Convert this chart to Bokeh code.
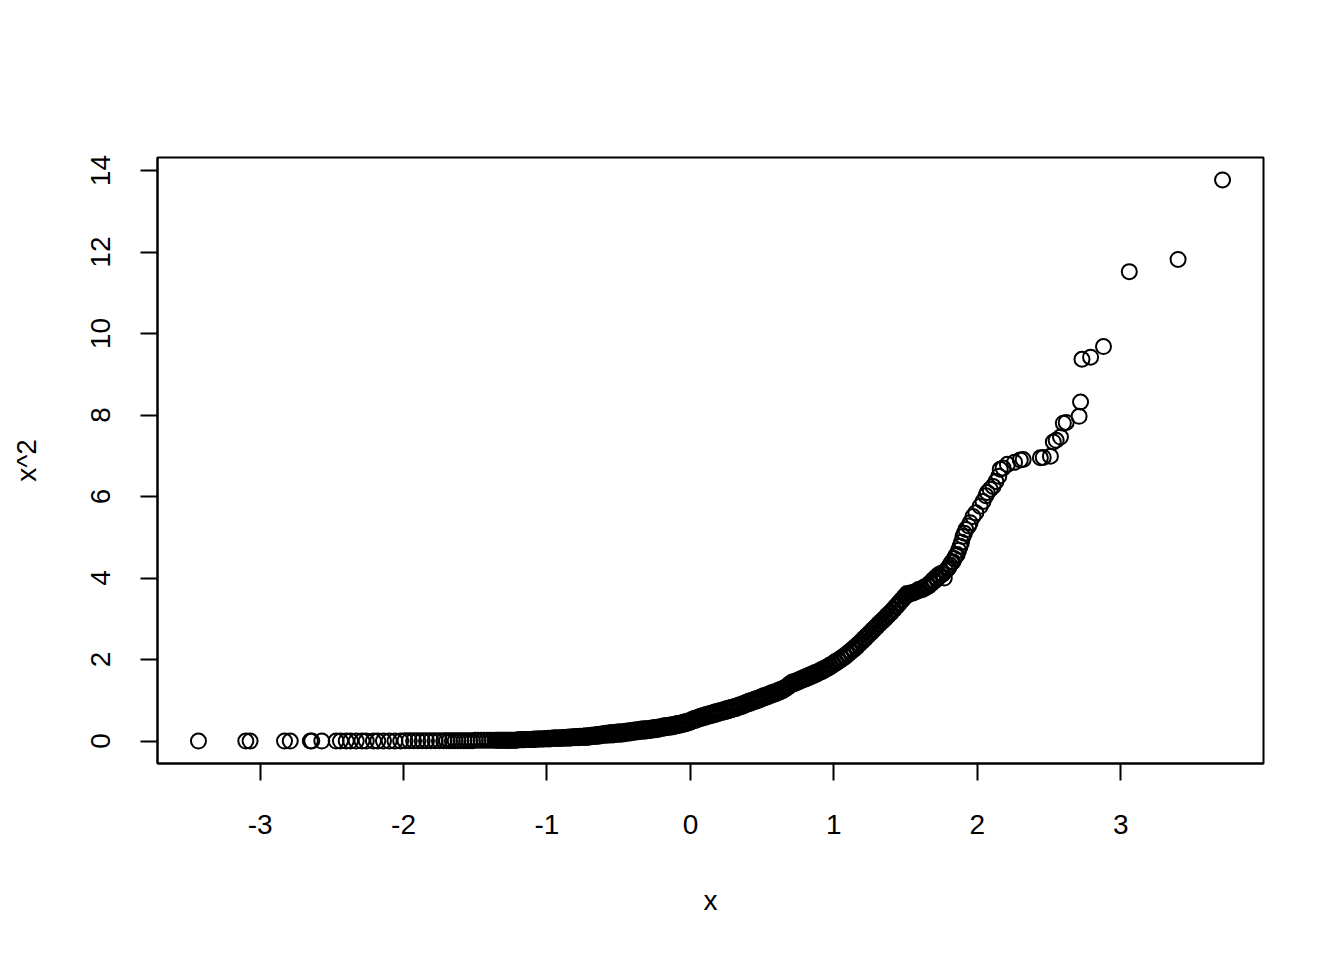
from bokeh.plotting import figure
from bokeh.models import Range1d, FixedTicker
from bokeh.embed import file_html
from bokeh.resources import INLINE

# ---- data ----
# sparse left tail
x_left = [
    -3.43, -3.10, -3.07, -2.83, -2.79, -2.65, -2.64, -2.57, -2.47, -2.44,
    -2.40, -2.37, -2.33, -2.29, -2.26, -2.21, -2.18, -2.14, -2.10, -2.06,
    -2.02, -1.99, -1.96, -1.93, -1.90, -1.87, -1.84, -1.81, -1.78, -1.75,
    -1.72, -1.70,
]
y_left = [
    0.00, 0.00, 0.00, 0.00, 0.00, 0.00, 0.00, 0.00, 0.00, 0.00,
    0.00, 0.00, 0.00, 0.00, 0.00, 0.00, 0.00, 0.00, 0.00, 0.00,
    0.00, 0.01, 0.01, 0.01, 0.01, 0.01, 0.01, 0.01, 0.01, 0.01,
    0.01, 0.01,
]
# dense middle band, lower edge
x_mid = [
    -1.68, -1.66, -1.64, -1.62, -1.60, -1.58, -1.56, -1.54, -1.52,
    -1.50, -1.48, -1.46, -1.44, -1.42, -1.40, -1.38, -1.36, -1.34, -1.32,
    -1.30, -1.28, -1.26, -1.24, -1.22,
    -1.20, -1.18, -1.16, -1.14, -1.12, -1.10, -1.08, -1.06, -1.04, -1.02,
    -1.00, -0.98, -0.96, -0.94, -0.92, -0.90, -0.88, -0.86, -0.84, -0.82,
    -0.80, -0.78, -0.76, -0.74, -0.72, -0.70, -0.68, -0.66, -0.64, -0.62,
    -0.60, -0.58, -0.56, -0.54, -0.52, -0.50, -0.48, -0.46, -0.44, -0.42,
    -0.40, -0.38, -0.36, -0.34, -0.32, -0.30, -0.28, -0.26, -0.24, -0.22,
    -0.20, -0.18, -0.16, -0.14, -0.12, -0.10, -0.08, -0.06, -0.04, -0.02,
    0.00, 0.02, 0.04, 0.06, 0.08, 0.10, 0.12, 0.14, 0.16, 0.18,
    0.20, 0.22, 0.24, 0.26, 0.28, 0.30, 0.32, 0.34, 0.36, 0.38,
    0.40, 0.42, 0.44, 0.46, 0.48, 0.50, 0.52, 0.54, 0.56, 0.58,
    0.60, 0.62, 0.64, 0.66, 0.68, 0.70, 0.72, 0.74, 0.76, 0.78,
    0.80, 0.82, 0.84, 0.86, 0.88, 0.90, 0.92, 0.94, 0.96, 0.98,
    1.00, 1.02, 1.04, 1.06, 1.08, 1.10, 1.12, 1.14, 1.16, 1.18,
    1.20, 1.22, 1.24, 1.26, 1.28, 1.30, 1.32, 1.34, 1.36, 1.38,
    1.40, 1.42, 1.44, 1.46, 1.48, 1.50,
]
y_mid = [
    0.01, 0.01, 0.01, 0.01, 0.01, 0.01, 0.01, 0.01, 0.01,
    0.02, 0.02, 0.02, 0.02, 0.02, 0.02, 0.02, 0.02, 0.02, 0.02,
    0.02, 0.02, 0.02, 0.02, 0.02,
    0.03, 0.03, 0.03, 0.04, 0.04, 0.04, 0.04, 0.05, 0.05, 0.05,
    0.05, 0.05, 0.06, 0.06, 0.06, 0.06, 0.07, 0.07, 0.07, 0.08,
    0.08, 0.08, 0.09, 0.09, 0.09, 0.10, 0.11, 0.11, 0.12, 0.13,
    0.14, 0.14, 0.15, 0.15, 0.16, 0.17, 0.17, 0.18, 0.19, 0.20,
    0.21, 0.22, 0.23, 0.24, 0.24, 0.25, 0.26, 0.27, 0.28, 0.29,
    0.31, 0.32, 0.33, 0.34, 0.35, 0.37, 0.38, 0.40, 0.42, 0.44,
    0.46, 0.49, 0.51, 0.54, 0.56, 0.58, 0.60, 0.62, 0.64, 0.66,
    0.68, 0.70, 0.72, 0.74, 0.76, 0.78, 0.80, 0.83, 0.85, 0.88,
    0.91, 0.93, 0.96, 0.98, 1.01, 1.04, 1.06, 1.09, 1.12, 1.14,
    1.17, 1.20, 1.23, 1.27, 1.32, 1.38, 1.40, 1.43, 1.46, 1.49,
    1.52, 1.55, 1.58, 1.61, 1.64, 1.68, 1.71, 1.75, 1.79, 1.83,
    1.88, 1.92, 1.97, 2.02, 2.07, 2.13, 2.19, 2.25, 2.31, 2.38,
    2.45, 2.52, 2.59, 2.66, 2.73, 2.80, 2.87, 2.94, 3.01, 3.08,
    3.15, 3.23, 3.31, 3.39, 3.47, 3.55,
]
# dense middle band, upper edge
x_mid2 = [
    -1.35, -1.33, -1.31, -1.29, -1.27, -1.25, -1.23, -1.21,
    -1.19, -1.17, -1.15, -1.13, -1.11, -1.09, -1.07, -1.05, -1.03, -1.01,
    -0.99, -0.97, -0.95, -0.93, -0.91, -0.89, -0.87, -0.85, -0.83, -0.81,
    -0.79, -0.77, -0.75, -0.73, -0.71, -0.69, -0.67, -0.65, -0.63, -0.61,
    -0.59, -0.57, -0.55, -0.53, -0.51, -0.49, -0.47, -0.45, -0.43, -0.41,
    -0.39, -0.37, -0.35, -0.33, -0.31, -0.29, -0.27, -0.25, -0.23, -0.21,
    -0.19, -0.17, -0.15, -0.13, -0.11, -0.09, -0.07, -0.05, -0.03, -0.01,
    0.01, 0.03, 0.05, 0.07, 0.09, 0.11, 0.13, 0.15, 0.17, 0.19,
    0.21, 0.23, 0.25, 0.27, 0.29, 0.31, 0.33, 0.35, 0.37, 0.39,
    0.41, 0.43, 0.45, 0.47, 0.49, 0.51, 0.53, 0.55, 0.57, 0.59,
    0.61, 0.63, 0.65, 0.67, 0.69, 0.71, 0.73, 0.75, 0.77, 0.79,
    0.81, 0.83, 0.85, 0.87, 0.89, 0.91, 0.93, 0.95, 0.97, 0.99,
    1.01, 1.03, 1.05, 1.07, 1.09, 1.11, 1.13, 1.15, 1.17, 1.19,
    1.21, 1.23, 1.25, 1.27, 1.29, 1.31, 1.33, 1.35, 1.37, 1.39,
    1.41, 1.43, 1.45, 1.47, 1.49, 1.51,
]
y_mid2 = [
    0.02, 0.02, 0.02, 0.02, 0.02, 0.02, 0.02, 0.02,
    0.03, 0.03, 0.04, 0.04, 0.04, 0.05, 0.05, 0.05, 0.05, 0.06,
    0.07, 0.07, 0.08, 0.08, 0.08, 0.09, 0.09, 0.10, 0.10, 0.11,
    0.11, 0.12, 0.12, 0.13, 0.13, 0.14, 0.15, 0.16, 0.17, 0.18,
    0.19, 0.20, 0.21, 0.21, 0.22, 0.23, 0.23, 0.24, 0.25, 0.26,
    0.27, 0.28, 0.29, 0.30, 0.30, 0.31, 0.32, 0.33, 0.34, 0.35,
    0.37, 0.38, 0.39, 0.40, 0.41, 0.43, 0.44, 0.46, 0.48, 0.50,
    0.53, 0.56, 0.58, 0.61, 0.63, 0.65, 0.67, 0.69, 0.71, 0.73,
    0.75, 0.77, 0.79, 0.81, 0.83, 0.85, 0.87, 0.90, 0.92, 0.95,
    0.98, 1.00, 1.03, 1.05, 1.08, 1.11, 1.13, 1.16, 1.19, 1.21,
    1.24, 1.27, 1.30, 1.34, 1.40, 1.45, 1.47, 1.50, 1.53, 1.56,
    1.59, 1.62, 1.65, 1.68, 1.71, 1.75, 1.78, 1.82, 1.86, 1.90,
    1.95, 1.99, 2.04, 2.09, 2.14, 2.20, 2.26, 2.32, 2.38, 2.45,
    2.52, 2.59, 2.66, 2.73, 2.80, 2.87, 2.94, 3.01, 3.08, 3.15,
    3.22, 3.30, 3.38, 3.46, 3.54, 3.62,
]
# upper tail
x_right = [
    1.52, 1.55, 1.57, 1.60, 1.62, 1.64, 1.66, 1.68, 1.70, 1.72,
    1.74, 1.76, 1.77, 1.78, 1.80, 1.81, 1.83, 1.84, 1.86, 1.87,
    1.88, 1.89, 1.90, 1.91, 1.92, 1.94, 1.95, 1.97, 1.99, 2.02,
    2.04, 2.06, 2.07, 2.09, 2.11, 2.13, 2.15, 2.16, 2.18, 2.21,
    2.26, 2.30, 2.32, 2.44, 2.46, 2.51, 2.53, 2.55, 2.58, 2.60,
    2.62, 2.71, 2.72, 2.73, 2.79, 2.88, 3.06, 3.40, 3.71,
]
y_right = [
    3.60, 3.63, 3.66, 3.70, 3.72, 3.76, 3.80, 3.86, 3.92, 3.98,
    4.05, 4.10, 4.00, 4.18, 4.25, 4.32, 4.40, 4.48, 4.58, 4.68,
    4.78, 4.88, 5.02, 5.10, 5.19, 5.28, 5.36, 5.51, 5.60, 5.76,
    5.88, 6.02, 6.10, 6.18, 6.25, 6.37, 6.50, 6.67, 6.70, 6.79,
    6.84, 6.90, 6.91, 6.95, 6.96, 6.99, 7.34, 7.38, 7.46, 7.80,
    7.82, 7.97, 8.32, 9.37, 9.42, 9.68, 11.52, 11.82, 13.77,
]
x_right2 = [
    1.51, 1.53, 1.54, 1.56, 1.58, 1.59, 1.61, 1.63, 1.65, 1.67,
    1.69, 1.71, 1.73, 1.75, 1.79, 1.82, 1.85,
]
y_right2 = [
    3.58, 3.62, 3.64, 3.66, 3.68, 3.72, 3.74, 3.78, 3.82, 3.88,
    3.95, 4.02, 4.08, 4.12, 4.22, 4.38, 4.55,
]
x_ticks = [-3, -2, -1, 0, 1, 2, 3]
y_ticks = [0, 2, 4, 6, 8, 10, 12, 14]
x_label = "x"
y_label = "x^2"

x_vals = x_left + x_mid + x_mid2 + x_right + x_right2
y_vals = y_left + y_mid + y_mid2 + y_right + y_right2

FONT = "Liberation Sans"
FS = "28px"

# R-style 4% range extension
xmin, xmax = min(x_vals), max(x_vals)
ymin, ymax = min(y_vals), max(y_vals)
dx = 0.04 * (xmax - xmin)
dy = 0.04 * (ymax - ymin)

p = figure(
    width=1336, height=952,
    x_range=Range1d(xmin - dx, xmax + dx),
    y_range=Range1d(ymin - dy, ymax + dy),
    output_backend="svg", toolbar_location=None,
    min_border_left=157, min_border_right=73,
    min_border_top=157, min_border_bottom=189,
)
p.background_fill_color = "white"
p.border_fill_color = "white"
p.grid.visible = False
p.outline_line_color = "black"
p.outline_line_width = 2

p.scatter(x_vals, y_vals, marker="circle", size=15,
          fill_color=None, line_color="black", line_width=2)

for ax in (p.xaxis[0], p.yaxis[0]):
    ax.axis_line_color = "black"
    ax.axis_line_width = 2
    ax.major_tick_line_color = "black"
    ax.major_tick_line_width = 2
    ax.major_tick_in = 0
    ax.major_tick_out = 17
    ax.minor_tick_line_color = None
    ax.major_label_text_font = FONT
    ax.major_label_text_font_size = FS
    ax.major_label_text_color = "black"
    ax.axis_label_text_font = FONT
    ax.axis_label_text_font_size = FS
    ax.axis_label_text_font_style = "normal"
    ax.axis_label_text_color = "black"

p.xaxis.ticker = FixedTicker(ticks=x_ticks)
p.yaxis.ticker = FixedTicker(ticks=y_ticks)
p.xaxis.major_label_overrides = {t: str(t) for t in x_ticks}
p.yaxis.major_label_overrides = {t: str(t) for t in y_ticks}
p.xaxis.axis_label = x_label
p.yaxis.axis_label = y_label
p.xaxis.major_label_standoff = 34
p.yaxis.major_label_standoff = 30
p.yaxis.major_label_orientation = "vertical"
p.xaxis.axis_label_standoff = 48
p.yaxis.axis_label_standoff = 47

open("out.html", "w").write(file_html(p, INLINE))
